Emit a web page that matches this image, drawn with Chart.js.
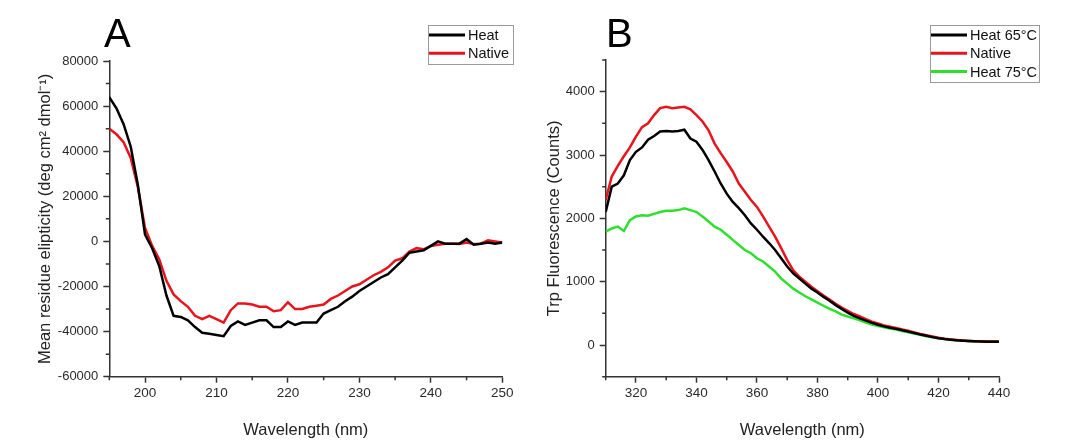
<!DOCTYPE html>
<html>
  <head>
    <title>CD and Trp fluorescence spectra</title>
    <script src="https://cdn.jsdelivr.net/npm/chart.js@4.4.0/dist/chart.umd.min.js"></script>
    <style>
      body { margin: 0; background: #fff; }
      canvas { position: absolute; top: 0; }
    </style>
  </head>
  <body>
    <canvas id="chartA" width="540" height="443" style="left:0"></canvas>
    <canvas id="chartB" width="525" height="443" style="left:540px"></canvas>
  </body>
  <script>
    // panel A - far UV CD
    const wavelengthsA = [195, 196, 197, 198, 199, 200, 201, 202, 203, 204, 205, 206, 207, 208, 209, 210,
      211, 212, 213, 214, 215, 216, 217, 218, 219, 220, 221, 222, 223, 224, 225, 226, 227, 228, 229, 230,
      231, 232, 233, 234, 235, 236, 237, 238, 239, 240, 241, 242, 243, 244, 245, 246, 247, 248, 249, 250]
    const heatA = [64000, 59000, 52000, 42000, 25000, 3000, -3000, -11000, -24000, -33000, -33500, -35000,
      -38000, -40500, -41000, -41500, -42000, -37500, -35500, -37000, -36000, -35000, -35000, -38000, -38000,
      -35500, -37000, -36000, -36000, -36000, -32000, -30500, -29000, -26500, -24500, -22000, -20000, -18000,
      -16000, -14500, -11500, -8500, -5000, -4500, -4000, -2000, 0, -1000, -1000, -1000, 1000, -1500, -1000,
      -500, -1000, -500]
    const nativeA = [50000, 47500, 44000, 37000, 24000, 6000, -2000, -8000, -17500, -23500, -26500, -29000,
      -33000, -34500, -33000, -34500, -36000, -30500, -27500, -27500, -28000, -29000, -29000, -31000, -30500,
      -27000, -30000, -30000, -29000, -28500, -28000, -25500, -24000, -22000, -20000, -19000, -17000, -15000,
      -13500, -11500, -8500, -7500, -4500, -3000, -3500, -2000, -1500, -1000, -1000, -1200, -500, -1200, -1000,
      500, 0, -500]
    const xTicksA = [195, 200, 205, 210, 215, 220, 225, 230, 235, 240, 245, 250]
    const xLabelsA = [200, 210, 220, 230, 240, 250]
    const yTicksA = [-60000, -50000, -40000, -30000, -20000, -10000, 0, 10000, 20000, 30000, 40000, 50000, 60000, 70000, 80000]
    const yLabelsA = [-60000, -40000, -20000, 0, 20000, 40000, 60000, 80000]

    // panel B - Trp fluorescence
    const wavelengthsB = [310, 312, 314, 316, 318, 320, 322, 324, 326, 328, 330, 332, 334, 336, 338, 340,
      342, 344, 346, 348, 350, 352, 354, 356, 358, 360, 362, 364, 366, 368, 370, 372, 374, 376, 378, 380,
      382, 384, 386, 388, 390, 392, 394, 396, 398, 400, 402, 404, 406, 408, 410, 412, 414, 416, 418, 420,
      422, 424, 426, 428, 430, 432, 434, 436, 438, 440]
    const heat65B = [2100, 2500, 2550, 2680, 2920, 3050, 3120, 3240, 3300, 3370, 3380, 3370, 3380, 3400,
      3260, 3210, 3080, 2920, 2740, 2550, 2390, 2260, 2160, 2050, 1920, 1820, 1710, 1610, 1500, 1370, 1240,
      1130, 1050, 970, 890, 830, 760, 700, 630, 570, 510,
      460, 420, 385, 350, 320, 295, 272, 255, 232, 212, 190, 165, 145, 125, 108, 95, 85, 75, 68, 62, 58, 55, 53, 51, 50]
    const nativeB = [2290, 2660, 2830, 2980, 3120, 3290, 3440, 3500, 3630, 3740, 3760, 3740, 3750, 3760,
      3720, 3630, 3530, 3390, 3180, 3030, 2890, 2740, 2550, 2420, 2290, 2180, 2030, 1870, 1710, 1530, 1340,
      1180, 1080, 1000, 920, 850, 780, 720, 650, 590, 540,
      490, 450, 410, 370, 340, 310, 290, 270, 245, 225, 200, 175, 155, 135, 115, 100, 88, 78, 70, 64, 60, 58, 56, 55, 53]
    const heat75B = [1790, 1840, 1870, 1800, 1970, 2030, 2050, 2040, 2070, 2100, 2120, 2120, 2130, 2160,
      2130, 2100, 2030, 1950, 1870, 1820, 1740, 1660, 1580, 1500, 1450, 1370, 1320, 1240, 1160, 1050, 970,
      890, 830, 770, 720, 670, 620, 570, 530, 480, 450,
      420, 390, 355, 325, 300, 280, 262, 245, 222, 200, 180, 160, 140, 122, 106, 95, 85, 77, 70, 65, 60, 58, 57, 56, 55]
    const xTicksB = [310, 320, 330, 340, 350, 360, 370, 380, 390, 400, 410, 420, 430, 440]
    const xLabelsB = [320, 340, 360, 380, 400, 420, 440]
    const yTicksB = [-500, 0, 500, 1000, 1500, 2000, 2500, 3000, 3500, 4000, 4500]
    const yLabelsB = [0, 1000, 2000, 3000, 4000]

    Chart.defaults.font.family = '"Liberation Sans", Arial, sans-serif'
    Chart.defaults.color = '#2a2a2a'

    const toPoints = (xs, ys) => xs.map((x, i) => ({ x: x, y: ys[i] }))

    // short outward ticks for the unlabeled values, panel letter and boxed legend
    const decorations = {
      id: 'decorations',
      afterDraw(chart, args, opts) {
        const { ctx, chartArea: { left, bottom }, scales: { x, y } } = chart
        ctx.save()
        ctx.strokeStyle = '#333'
        ctx.lineWidth = 1.5
        ctx.beginPath()
        opts.xTicks.filter(v => !opts.xLabels.includes(v)).forEach(v => {
          const px = x.getPixelForValue(v)
          ctx.moveTo(px, bottom); ctx.lineTo(px, bottom + 3.5)
        })
        opts.yTicks.filter(v => !opts.yLabels.includes(v)).forEach(v => {
          const py = y.getPixelForValue(v)
          ctx.moveTo(left, py); ctx.lineTo(left - 3.5, py)
        })
        ctx.stroke()

        ctx.fillStyle = '#000'
        ctx.font = '40px "Liberation Sans", Arial, sans-serif'
        ctx.textBaseline = 'alphabetic'
        ctx.fillText(opts.letter, opts.letterX, 47)

        const lg = opts.legend
        ctx.strokeStyle = '#9a9a9a'
        ctx.lineWidth = 1
        ctx.strokeRect(lg.x + 0.5, lg.y + 0.5, lg.w, lg.h)
        ctx.font = '14.5px "Liberation Sans", Arial, sans-serif'
        ctx.textBaseline = 'middle'
        chart.data.datasets.forEach((ds, i) => {
          const ry = lg.y + 10 + i * 18.3
          ctx.strokeStyle = ds.borderColor
          ctx.lineWidth = 3
          ctx.beginPath()
          ctx.moveTo(lg.x + 1, ry); ctx.lineTo(lg.x + lg.line, ry)
          ctx.stroke()
          ctx.fillStyle = '#111'
          ctx.fillText(ds.label, lg.x + lg.line + 3, ry + 1)
        })
        ctx.restore()
      },
    }

    function makeChart(id, datasets, s) {
      return new Chart(document.getElementById(id).getContext('2d'), {
        type: 'line',
        data: { datasets: datasets },
        options: {
          responsive: false,
          animation: false,
          layout: { padding: { top: s.top, right: s.right, left: 0, bottom: 0 } },
          elements: { point: { radius: 0 }, line: { borderWidth: 2.5, tension: 0 } },
          scales: {
            x: {
              type: 'linear',
              min: s.xTicks[0],
              max: s.xTicks[s.xTicks.length - 1],
              afterBuildTicks: (scale) => { scale.ticks = s.xTicks.map(v => ({ value: v })) },
              afterFit: (scale) => { scale.height = 443 - s.bottom },
              border: { display: true, color: '#333', width: 1.5 },
              grid: {
                drawOnChartArea: false,
                tickLength: 6,
                tickWidth: 1.5,
                tickColor: (c) => s.xLabels.includes(c.tick.value) ? '#333' : 'rgba(0,0,0,0)',
              },
              ticks: {
                autoSkip: false,
                maxRotation: 0,
                padding: 2,
                font: { size: 13.5 },
                callback: (v) => s.xLabels.includes(v) ? String(v) : '',
              },
              title: {
                display: true,
                text: 'Wavelength (nm)',
                color: '#222',
                font: { size: 16.5 },
                padding: { top: 0, bottom: 3 },
              },
            },
            y: {
              type: 'linear',
              min: s.yTicks[0],
              max: s.yTicks[s.yTicks.length - 1],
              afterBuildTicks: (scale) => { scale.ticks = s.yTicks.map(v => ({ value: v })) },
              afterFit: (scale) => { scale.width = s.left },
              border: { display: true, color: '#333', width: 1.5 },
              grid: {
                drawOnChartArea: false,
                tickLength: 6,
                tickWidth: 1.5,
                tickColor: (c) => s.yLabels.includes(c.tick.value) ? '#333' : 'rgba(0,0,0,0)',
              },
              ticks: {
                autoSkip: false,
                padding: 5,
                font: { size: 13 },
                callback: (v) => s.yLabels.includes(v) ? String(v) : '',
              },
              title: {
                display: true,
                text: s.yTitle,
                color: '#222',
                font: { size: 16.5 },
                padding: { top: s.titleOffset, bottom: 0 },
              },
            },
          },
          plugins: {
            legend: { display: false },
            tooltip: { enabled: false },
            decorations: {
              xTicks: s.xTicks, xLabels: s.xLabels, yTicks: s.yTicks, yLabels: s.yLabels,
              letter: s.letter, letterX: s.letterX, legend: s.legend,
            },
          },
        },
        plugins: [decorations],
      })
    }

    makeChart('chartA', [
      { label: 'Heat', data: toPoints(wavelengthsA, heatA), borderColor: '#000000' },
      { label: 'Native', data: toPoints(wavelengthsA, nativeA), borderColor: '#e8141b' },
    ], {
      top: 61, bottom: 376.7, left: 109.3, right: 540 - 502.3, titleOffset: 36,
      xTicks: xTicksA, xLabels: xLabelsA, yTicks: yTicksA, yLabels: yLabelsA,
      yTitle: 'Mean residue elipticity (deg cm\u00B2 dmol\u207B\u00B9)',
      letter: 'A', letterX: 104,
      legend: { x: 428, y: 25, w: 85, h: 39, line: 37 },
    })

    makeChart('chartB', [
      { label: 'Heat 65\u00B0C', data: toPoints(wavelengthsB, heat65B), borderColor: '#000000' },
      { label: 'Native', data: toPoints(wavelengthsB, nativeB), borderColor: '#e8141b' },
      { label: 'Heat 75\u00B0C', data: toPoints(wavelengthsB, heat75B), borderColor: '#2ee02e' },
    ], {
      top: 60, bottom: 376.7, left: 65.7, right: 525 - 459, titleOffset: 5,
      xTicks: xTicksB, xLabels: xLabelsB, yTicks: yTicksB, yLabels: yLabelsB,
      yTitle: 'Trp Fluorescence (Counts)',
      letter: 'B', letterX: 66,
      legend: { x: 390, y: 25, w: 109, h: 57, line: 37 },
    })
  </script>
</html>
